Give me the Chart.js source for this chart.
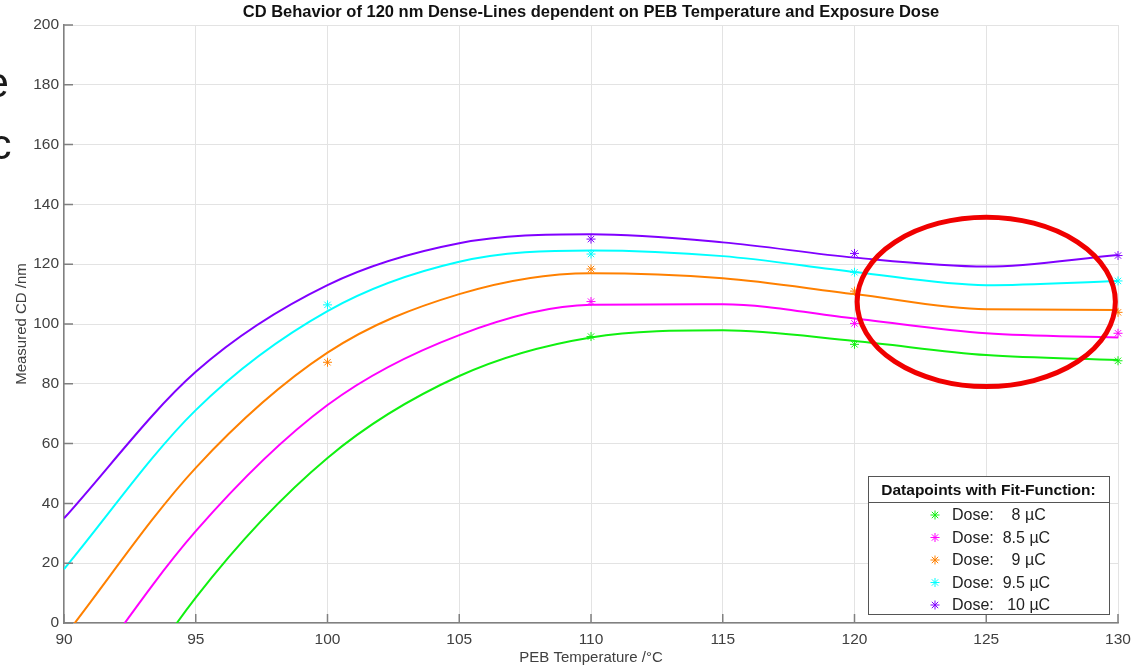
<!DOCTYPE html>
<html>
<head>
<meta charset="utf-8">
<title>CD Behavior of 120 nm Dense-Lines</title>
<script src="https://cdn.jsdelivr.net/npm/chart.js@4"></script>
<style>
  html, body { margin: 0; padding: 0; background: #fff; overflow: hidden; }
  #wrap { position: relative; width: 1140px; height: 668px; }
  .slide { position: absolute; font-family: 'Liberation Sans', Arial, sans-serif; font-size: 43px; line-height: 43px; color: #1a1a1a; }
</style>
</head>
<body>
<div id="wrap">
  <canvas id="cdChart" width="1140" height="668"></canvas>
  <span class="slide" style="left:-15px; top:61px;">e</span>
  <span class="slide" style="left:-10px; top:123px;">c</span>
</div>
<script>
// fit curves
const fitTemps = [90, 95, 100, 105, 110, 115, 120, 125, 130];
const fit8  = [-58, 8.5, 55.2, 82.6, 95.5, 97.9, 94.3, 89.6, 88.0];
const fit85 = [-28, 30.7, 72.9, 96.3, 106.4, 106.6, 101.8, 96.9, 95.5];
const fit9  = [-4.7, 51.9, 90.4, 110.0, 117.0, 115.3, 110.0, 104.9, 104.7];
const fit95 = [18, 71.2, 104.3, 120.8, 124.6, 122.7, 117.4, 113.0, 114.4];
const fit10 = [35, 84, 113.0, 127.0, 130.0, 127.3, 122.2, 119.2, 123.1];

// measured datapoints (null = not shown)
const pointTemps = [100, 110, 120, 130];
const pts8  = [null, 95.8, 93.2, 87.7];
const pts85 = [null, 107.5, 100.2, 96.9];
const pts9  = [87.2, 118.4, 111.0, 103.9];
const pts95 = [106.4, 123.4, 117.3, 114.4];
const pts10 = [null, 128.4, 123.6, 122.9];

const doseLabels = ['Dose:    8 µC', 'Dose:  8.5 µC', 'Dose:    9 µC', 'Dose:  9.5 µC', 'Dose:   10 µC'];
const doseColors = ['#10f010', '#ff00ff', '#ff8000', '#00ffff', '#8000ff'];
const chartTitle = 'CD Behavior of 120 nm Dense-Lines dependent on PEB Temperature and Exposure Dose';
const legendTitle = 'Datapoints with Fit-Function:';

const fits = [fit8, fit85, fit9, fit95, fit10];
const points = [pts8, pts85, pts9, pts95, pts10];

function toXY(xs, ys) {
    const out = [];
    xs.forEach((x, i) => { if (ys[i] !== null) out.push({ x: x, y: ys[i] }); });
    return out;
}

function drawStar(ctx, x, y, r, color) {
    const d = r * 0.707;
    ctx.save();
    ctx.strokeStyle = color;
    ctx.lineWidth = 1;
    ctx.beginPath();
    ctx.moveTo(x - r, y); ctx.lineTo(x + r, y);
    ctx.moveTo(x, y - r); ctx.lineTo(x, y + r);
    ctx.moveTo(x - d, y - d); ctx.lineTo(x + d, y + d);
    ctx.moveTo(x - d, y + d); ctx.lineTo(x + d, y - d);
    ctx.stroke();
    ctx.restore();
}

const FONT = '"Liberation Sans", Arial, sans-serif';
Chart.defaults.font.family = FONT;

// matlab style: title, inward ticks, boxed legend, red marker ellipse
const decorPlugin = {
    id: 'decor',
    afterDraw(chart) {
        const { ctx, chartArea } = chart;
        const xs = chart.scales.x, ys = chart.scales.y;
        ctx.save();

        ctx.fillStyle = '#111';
        ctx.font = 'bold 16.5px ' + FONT;
        ctx.textAlign = 'center';
        ctx.textBaseline = 'middle';
        ctx.fillText(chartTitle, (chartArea.left + chartArea.right) / 2, 12);

        ctx.strokeStyle = '#808080';
        ctx.lineWidth = 1.5;
        ctx.beginPath();
        xs.ticks.forEach(t => {
            const px = xs.getPixelForValue(t.value);
            ctx.moveTo(px, chartArea.bottom);
            ctx.lineTo(px, chartArea.bottom - 9);
        });
        ys.ticks.forEach(t => {
            const py = ys.getPixelForValue(t.value);
            ctx.moveTo(chartArea.left, py);
            ctx.lineTo(chartArea.left + 9, py);
        });
        ctx.stroke();

        // legend
        const left = chartArea.right - 250, right = chartArea.right - 9;
        const top = chartArea.bottom - 147, bottom = chartArea.bottom - 9;
        ctx.fillStyle = '#fff';
        ctx.fillRect(left, top, right - left, bottom - top);
        ctx.strokeStyle = '#555';
        ctx.lineWidth = 1;
        ctx.strokeRect(left + 0.5, top + 0.5, right - left, bottom - top);
        ctx.beginPath();
        ctx.moveTo(left, top + 26.5);
        ctx.lineTo(right, top + 26.5);
        ctx.stroke();
        ctx.fillStyle = '#111';
        ctx.font = 'bold 15.5px ' + FONT;
        ctx.fillText(legendTitle, (left + right) / 2, top + 15);
        ctx.font = '16px ' + FONT;
        ctx.textAlign = 'left';
        doseLabels.forEach((lab, i) => {
            const y = top + 39 + i * 22.5;
            drawStar(ctx, left + 67, y, 4.5, doseColors[i]);
            ctx.fillStyle = '#222';
            ctx.fillText(lab, left + 84, y + 1);
        });

        // red ellipse highlighting the 120-130 region
        const cx = xs.getPixelForValue(125), cy = ys.getPixelForValue(107.4);
        const rx = xs.getPixelForValue(129.9) - cx;
        const ry = cy - ys.getPixelForValue(135.7);
        ctx.strokeStyle = '#f00000';
        ctx.lineWidth = 5;
        ctx.beginPath();
        ctx.ellipse(cx, cy, rx, ry, 0, 0, Math.PI * 2);
        ctx.stroke();

        ctx.restore();
    }
};

const datasets = [];
points.forEach((p, i) => {
    datasets.push({
        type: 'scatter',
        label: doseLabels[i],
        data: toXY(pointTemps, p),
        pointStyle: 'star',
        pointRadius: 4.5,
        borderWidth: 1,
        borderColor: doseColors[i],
        backgroundColor: doseColors[i],
        clip: false
    });
});
fits.forEach((f, i) => {
    datasets.push({
        type: 'line',
        label: 'fit ' + doseLabels[i],
        data: toXY(fitTemps, f),
        borderColor: doseColors[i],
        borderWidth: 2,
        pointRadius: 0,
        cubicInterpolationMode: 'monotone',
        fill: false,
        clip: 0
    });
});

const tickColor = '#404040';
new Chart(document.getElementById('cdChart'), {
    data: { datasets: datasets },
    options: {
        responsive: false,
        animation: false,
        layout: { padding: { top: 25, right: 22, left: 0, bottom: 0 } },
        plugins: {
            legend: { display: false },
            title: { display: false },
            tooltip: { enabled: false }
        },
        scales: {
            x: {
                type: 'linear',
                min: 90,
                max: 130,
                ticks: { stepSize: 5, padding: 7, color: tickColor, font: { size: 15.5 } },
                grid: { color: '#e3e3e3', drawTicks: false },
                border: { color: '#808080', width: 1.5 },
                title: { display: true, text: 'PEB Temperature /°C', color: tickColor, font: { size: 15 }, padding: { top: 0, bottom: 1 } },
                afterFit(s) { s.height = 45; }
            },
            y: {
                min: 0,
                max: 200,
                ticks: { stepSize: 20, padding: 5, color: tickColor, font: { size: 15.5 } },
                grid: { color: '#e3e3e3', drawTicks: false },
                border: { color: '#808080', width: 1.5 },
                title: { display: true, text: 'Measured CD /nm', color: tickColor, font: { size: 15 }, padding: { top: 13, bottom: 0 } },
                afterFit(s) { s.width = 64; }
            }
        }
    },
    plugins: [decorPlugin]
});
</script>
</body>
</html>
